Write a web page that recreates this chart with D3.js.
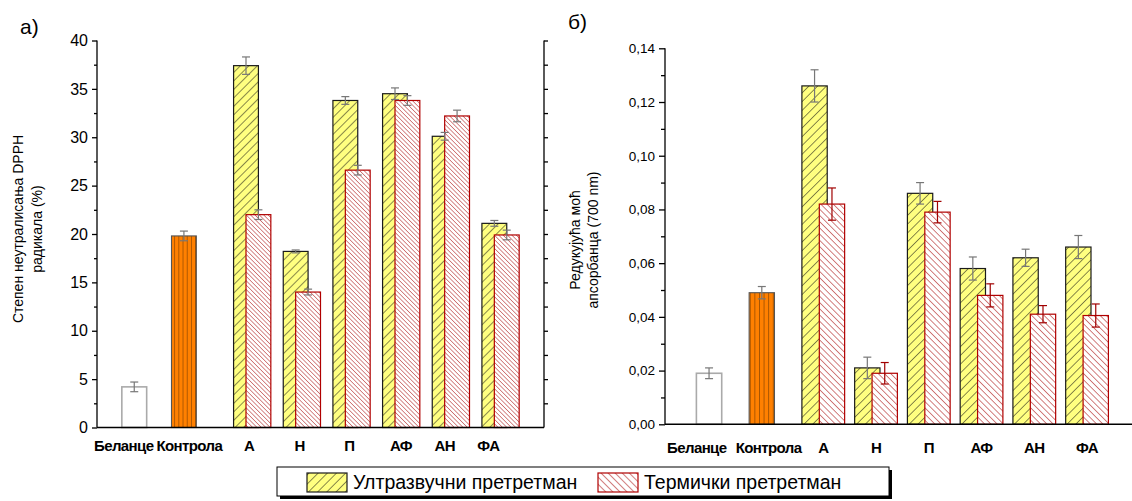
<!DOCTYPE html>
<html>
<head>
<meta charset="utf-8">
<script src="https://cdn.jsdelivr.net/npm/d3@7"></script>
<style>
  html, body { margin: 0; padding: 0; background: #fff; }
  svg { display: block; font-family: "Liberation Sans", Arial, sans-serif; }
</style>
</head>
<body>
<svg id="chart" width="1132" height="501"></svg>
<script>
// Sample categories shared by both panels
const categories = ["Беланце", "Контрола", "А", "Н", "П", "АФ", "АН", "ФА"];

// Panel а) — DPPH radical scavenging (%)
const dpphReference    = [4.2, 19.8, null, null, null, null, null, null];
const dpphReferenceErr = [0.5, 0.5, null, null, null, null, null, null];
const dpphUltra        = [null, null, 37.4, 18.2, 33.8, 34.5, 30.1, 21.1];
const dpphUltraErr     = [null, null, 0.9, 0.15, 0.4, 0.6, 0.4, 0.3];
const dpphThermal      = [null, null, 22.0, 14.0, 26.6, 33.8, 32.2, 19.9];
const dpphThermalErr   = [null, null, 0.5, 0.3, 0.5, 0.5, 0.6, 0.5];
const dpphTicks        = [0, 5, 10, 15, 20, 25, 30, 35, 40];

// Panel б) — reducing power, absorbance at 700 nm
const rpReference    = [0.019, 0.049, null, null, null, null, null, null];
const rpReferenceErr = [0.002, 0.0023, null, null, null, null, null, null];
const rpUltra        = [null, null, 0.126, 0.021, 0.086, 0.058, 0.062, 0.066];
const rpUltraErr     = [null, null, 0.006, 0.004, 0.004, 0.0043, 0.0032, 0.0043];
const rpThermal      = [null, null, 0.082, 0.019, 0.079, 0.048, 0.041, 0.0405];
const rpThermalErr   = [null, null, 0.006, 0.004, 0.004, 0.0043, 0.0032, 0.0043];
const rpTicks        = [0, 0.02, 0.04, 0.06, 0.08, 0.10, 0.12, 0.14];

const legendLabels = ["Ултразвучни претретман", "Термички претретман"];

const svg = d3.select("#chart");
const defs = svg.append("defs");

// Hatch fills: lines rotated by the given angle, optional background colour
function hatch(id, spacing, angle, lineColor, bg, lineWidth) {
  const p = defs.append("pattern")
    .attr("id", id)
    .attr("patternUnits", "userSpaceOnUse")
    .attr("width", spacing).attr("height", spacing)
    .attr("patternTransform", `rotate(${angle})`);
  p.append("rect").attr("width", spacing).attr("height", spacing).attr("fill", bg);
  p.append("line").attr("x1", 0).attr("y1", -1).attr("x2", 0).attr("y2", spacing + 1)
    .attr("stroke", lineColor).attr("stroke-width", lineWidth);
}
hatch("ultraA", 6, 45, "#111", "#ffff80", 1);
hatch("thermA", 3.1, -45, "#a50000", "#fff", 0.9);
hatch("ultraB", 6.2, 45, "#111", "#ffff80", 1);
hatch("thermB", 4.4, -45, "#a50000", "#fff", 1);
hatch("orangeA", 4.15, 0, "#5a2d00", "#ff8000", 1);
hatch("orangeB", 4.6, 0, "#5a2d00", "#ff8000", 1);
hatch("legendUltra", 6.5, 45, "#111", "#ffff80", 1);
hatch("legendTherm", 5, -45, "#a50000", "#fff", 1);

function drawPanel(cfg) {
  const g = svg.append("g");
  const x = d3.scaleBand().domain(categories).range(cfg.xRange).paddingOuter(0.5).paddingInner(0);
  const step = x.step();
  const cx = c => x(c) + step / 2;
  const y = d3.scaleLinear().domain(cfg.yDomain).range(cfg.yRange);
  const bw = step * cfg.barFrac;

  // series drawn in order: reference samples, ultrasound, thermal (on top)
  const series = [
    { vals: cfg.ref, errs: cfg.refErr, off: cfg.offRef, err: "#777",
      fill: (d, i) => i === 0 ? "#fff" : `url(#${cfg.orange})`,
      stroke: (d, i) => i === 0 ? "#aaa" : "#555", sw: (d, i) => i === 0 ? 1.6 : 1.1 },
    { vals: cfg.ultra, errs: cfg.ultraErr, off: cfg.offUltra, err: "#777",
      fill: () => `url(#${cfg.ultraPat})`, stroke: () => "#1a1a1a", sw: () => 1.2 },
    { vals: cfg.therm, errs: cfg.thermErr, off: cfg.offTherm, err: cfg.thermErrColor,
      fill: () => `url(#${cfg.thermPat})`, stroke: () => "#b00000", sw: () => 1.2 }
  ];

  series.forEach(s => {
    const data = categories.map((c, i) => ({ c, v: s.vals[i], e: s.errs[i] })).filter(d => d.v != null);
    g.append("g").selectAll("rect").data(data).join("rect")
      .attr("x", d => cx(d.c) + s.off * step - bw / 2)
      .attr("width", bw)
      .attr("y", d => y(d.v))
      .attr("height", d => y(0) - y(d.v))
      .attr("fill", s.fill)
      .attr("stroke", s.stroke)
      .attr("stroke-width", s.sw);
  });

  // error bars above all bars
  series.forEach(s => {
    const data = categories.map((c, i) => ({ c, v: s.vals[i], e: s.errs[i] })).filter(d => d.v != null);
    const eg = g.append("g").attr("stroke", s.err).attr("stroke-width", 1.2).attr("fill", "none");
    data.forEach(d => {
      const xc = cx(d.c) + s.off * step;
      eg.append("line").attr("x1", xc).attr("x2", xc).attr("y1", y(d.v + d.e)).attr("y2", y(d.v - d.e));
      eg.append("line").attr("x1", xc - 4).attr("x2", xc + 4).attr("y1", y(d.v + d.e)).attr("y2", y(d.v + d.e));
      eg.append("line").attr("x1", xc - 4).attr("x2", xc + 4).attr("y1", y(d.v - d.e)).attr("y2", y(d.v - d.e));
    });
  });

  // left axis with major labels and minor ticks
  const yAxis = d3.axisLeft(y).tickValues(cfg.ticks).tickFormat(cfg.fmt).tickSize(cfg.majorTick).tickPadding(4);
  const ya = g.append("g").attr("transform", `translate(${cfg.xRange[0]},0)`).call(yAxis);
  const minor = d3.range(cfg.ticks.length - 1).map(i => (cfg.ticks[i] + cfg.ticks[i + 1]) / 2);
  g.append("g").attr("transform", `translate(${cfg.xRange[0]},0)`)
    .call(d3.axisLeft(y).tickValues(minor).tickSize(cfg.minorTick).tickFormat(""))
    .call(a => a.select(".domain").remove());
  ya.select(".domain").attr("d", `M0,${y(cfg.yDomain[0])}V${y(cfg.yDomain[1])}`);
  g.selectAll(".domain, .tick line").attr("stroke", "#000").attr("stroke-width", 1.3);
  ya.selectAll("text").attr("font-size", cfg.tickFont).attr("fill", "#000");

  // optional mirrored right axis
  if (cfg.rightAxis) {
    const all = cfg.ticks.concat(minor).filter(v => v > cfg.yDomain[0]);
    g.append("g").attr("transform", `translate(${cfg.xRange[1]},0)`)
      .call(d3.axisLeft(y).tickValues(all).tickSize(-4).tickFormat(""))
      .call(a => a.select(".domain").attr("d", `M0,${y(cfg.yDomain[0])}V${y(cfg.yDomain[1])}`))
      .selectAll(".domain, .tick line").attr("stroke", "#000").attr("stroke-width", 1.3);
  }

  // x axis line
  g.append("line")
    .attr("x1", cfg.xRange[0]).attr("x2", cfg.xLineEnd)
    .attr("y1", y(0)).attr("y2", y(0))
    .attr("stroke", "#000").attr("stroke-width", 1.5);

  // category labels
  g.append("g").selectAll("text").data(categories).join("text")
    .attr("x", (c, i) => cx(c) + (cfg.labelNudge[i] || 0))
    .attr("y", y(0) + cfg.labelDy)
    .attr("text-anchor", "middle")
    .attr("font-size", 15).attr("font-weight", "bold")
    .attr("letter-spacing", "-0.6")
    .text(c => c);

  // axis title (two lines, rotated)
  const t = g.append("text")
    .attr("transform", `translate(${cfg.titleX},${cfg.titleY}) rotate(-90)`)
    .attr("text-anchor", "middle")
    .attr("font-size", cfg.titleFont);
  cfg.title.forEach((line, i) => {
    t.append("tspan").attr("x", 0).attr("dy", i === 0 ? 0 : cfg.titleGap).text(line);
  });

  // panel letter
  g.append("text").attr("x", cfg.letterX).attr("y", cfg.letterY).attr("font-size", 21).text(cfg.letter);
}

const comma = d => d3.format(".2f")(d).replace(".", ",");

drawPanel({
  xRange: [97, 544], xLineEnd: 544, yDomain: [0, 40], yRange: [427.5, 40.5],
  barFrac: 0.5, offRef: -0.25, offUltra: 0, offTherm: 0.25,
  ref: dpphReference, refErr: dpphReferenceErr,
  ultra: dpphUltra, ultraErr: dpphUltraErr,
  therm: dpphThermal, thermErr: dpphThermalErr, thermErrColor: "#777",
  ultraPat: "ultraA", thermPat: "thermA", orange: "orangeA",
  ticks: dpphTicks, fmt: d3.format("d"), majorTick: 5, minorTick: 3, tickFont: 16,
  rightAxis: true,
  labelNudge: [-23, -7, 3, 4, 4, 6, 0, -6], labelDy: 23,
  title: ["Степен неутралисања DPPH", "радикала (%)"], titleX: 23, titleY: 229, titleGap: 19, titleFont: 14,
  letter: "а)", letterX: 20, letterY: 34
});

drawPanel({
  xRange: [665, 1139.8], xLineEnd: 1132, yDomain: [0, 0.14], yRange: [424.3, 48.3],
  barFrac: 0.48, offRef: -0.165, offUltra: -0.165, offTherm: 0.165,
  ref: rpReference, refErr: rpReferenceErr,
  ultra: rpUltra, ultraErr: rpUltraErr,
  therm: rpThermal, thermErr: rpThermalErr, thermErrColor: "#a00000",
  ultraPat: "ultraB", thermPat: "thermB", orange: "orangeB",
  ticks: rpTicks, fmt: comma, majorTick: 6, minorTick: 4, tickFont: 13.5,
  rightAxis: false,
  labelNudge: [-21, -2, 0, 0, 0, 0, 0, 0], labelDy: 29,
  title: ["Редукујућа моћ", "апсорбанца (700 nm)"], titleX: 580, titleY: 240, titleGap: 18, titleFont: 14,
  letter: "б)", letterX: 568, letterY: 29
});

// legend box with drop shadow
const lg = svg.append("g");
lg.append("rect").attr("x", 280).attr("y", 470).attr("width", 612).attr("height", 29).attr("fill", "#000");
lg.append("rect").attr("x", 277).attr("y", 467).attr("width", 612).attr("height", 29)
  .attr("fill", "#fff").attr("stroke", "#000").attr("stroke-width", 1);
const items = [
  { label: legendLabels[0], x: 307, fill: "url(#legendUltra)", stroke: "#1a1a1a" },
  { label: legendLabels[1], x: 598, fill: "url(#legendTherm)", stroke: "#b00000" }
];
items.forEach(it => {
  lg.append("rect").attr("x", it.x).attr("y", 473).attr("width", 40).attr("height", 19)
    .attr("fill", it.fill).attr("stroke", it.stroke).attr("stroke-width", 1.2);
  lg.append("text").attr("x", it.x + 46).attr("y", 489).attr("font-size", 19.5).text(it.label);
});
</script>
</body>
</html>
